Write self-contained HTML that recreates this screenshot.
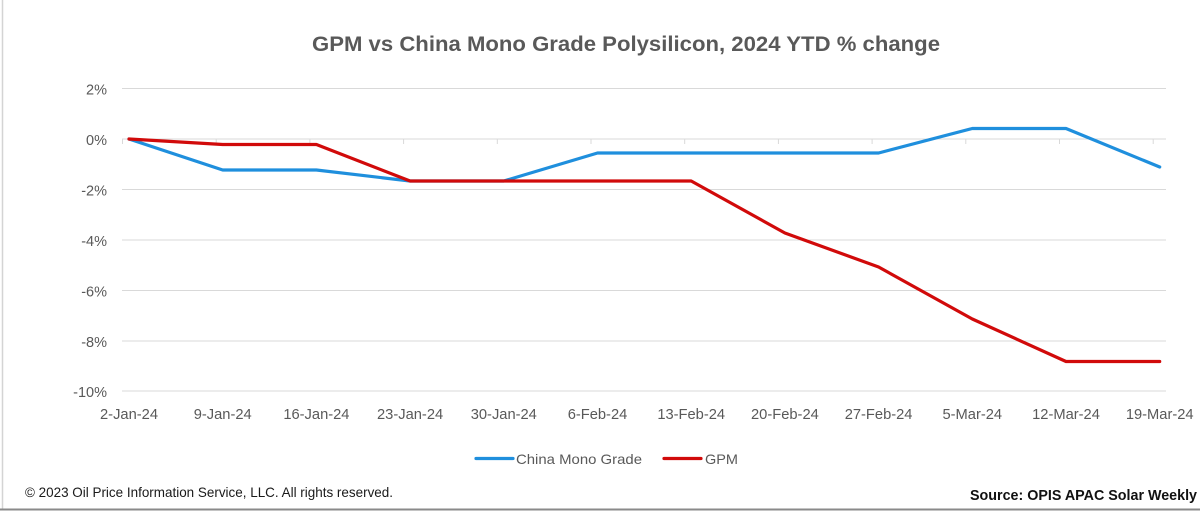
<!DOCTYPE html>
<html>
<head>
<meta charset="utf-8">
<style>
  html,body{margin:0;padding:0;background:#fff;}
  svg{display:block;}
  text{font-family:"Liberation Sans",sans-serif;}
</style>
</head>
<body>
<svg width="1200" height="511" viewBox="0 0 1200 511" xmlns="http://www.w3.org/2000/svg">
  <rect x="0" y="0" width="1200" height="511" fill="#ffffff"/>
  <!-- borders -->
  <line x1="2.5" y1="0" x2="2.5" y2="509" stroke="#d4d4d4" stroke-width="1.5"/>
  <line x1="0" y1="509.5" x2="1200" y2="509.5" stroke="#8a8a8a" stroke-width="2"/>

  <!-- title -->
  <text x="626" y="51" text-anchor="middle" font-size="21" font-weight="bold" fill="#595959" textLength="628" lengthAdjust="spacingAndGlyphs">GPM vs China Mono Grade Polysilicon, 2024 YTD % change</text>

  <!-- gridlines -->
  <g stroke="#d9d9d9" stroke-width="1">
    <line x1="122" y1="88.5" x2="1166" y2="88.5"/>
    <line x1="122" y1="139" x2="1166" y2="139"/>
    <line x1="122" y1="189.5" x2="1166" y2="189.5"/>
    <line x1="122" y1="240" x2="1166" y2="240"/>
    <line x1="122" y1="290.5" x2="1166" y2="290.5"/>
    <line x1="122" y1="341" x2="1166" y2="341"/>
    <line x1="122" y1="391" x2="1166" y2="391"/>
  </g>
  <!-- tick marks on 0% axis -->
  <g stroke="#d9d9d9" stroke-width="1">
    <line x1="122.5" y1="139" x2="122.5" y2="144"/>
    <line x1="216.2" y1="139" x2="216.2" y2="144"/>
    <line x1="309.9" y1="139" x2="309.9" y2="144"/>
    <line x1="403.6" y1="139" x2="403.6" y2="144"/>
    <line x1="497.3" y1="139" x2="497.3" y2="144"/>
    <line x1="591" y1="139" x2="591" y2="144"/>
    <line x1="684.7" y1="139" x2="684.7" y2="144"/>
    <line x1="778.4" y1="139" x2="778.4" y2="144"/>
    <line x1="872.1" y1="139" x2="872.1" y2="144"/>
    <line x1="965.8" y1="139" x2="965.8" y2="144"/>
    <line x1="1059.5" y1="139" x2="1059.5" y2="144"/>
    <line x1="1153.2" y1="139" x2="1153.2" y2="144"/>
  </g>

  <!-- y labels -->
  <g font-size="14.5" fill="#595959" text-anchor="end">
    <text x="107" y="94.5">2%</text>
    <text x="107" y="145">0%</text>
    <text x="107" y="195.5">-2%</text>
    <text x="107" y="246">-4%</text>
    <text x="107" y="296.5">-6%</text>
    <text x="107" y="347">-8%</text>
    <text x="107" y="397">-10%</text>
  </g>

  <!-- x labels -->
  <g font-size="14.7" fill="#595959" text-anchor="middle">
    <text x="129" y="419">2-Jan-24</text>
    <text x="222.7" y="419">9-Jan-24</text>
    <text x="316.4" y="419">16-Jan-24</text>
    <text x="410.1" y="419">23-Jan-24</text>
    <text x="503.8" y="419">30-Jan-24</text>
    <text x="597.5" y="419">6-Feb-24</text>
    <text x="691.2" y="419">13-Feb-24</text>
    <text x="784.9" y="419">20-Feb-24</text>
    <text x="878.6" y="419">27-Feb-24</text>
    <text x="972.3" y="419">5-Mar-24</text>
    <text x="1066" y="419">12-Mar-24</text>
    <text x="1159.7" y="419">19-Mar-24</text>
  </g>

  <!-- series: China Mono Grade -->
  <polyline fill="none" stroke="#1f8fdd" stroke-width="3.2" stroke-linejoin="round" stroke-linecap="round"
    points="129,139 222.7,170 316.4,170 410.1,181 503.8,181 597.5,153 691.2,153 784.9,153 878.6,153 972.3,128.5 1066,128.5 1159.7,167"/>
  <!-- series: GPM -->
  <polyline fill="none" stroke="#d10a0a" stroke-width="3.2" stroke-linejoin="round" stroke-linecap="round"
    points="129,139 222.7,144.5 316.4,144.5 410.1,181 503.8,181 597.5,181 691.2,181 784.9,233 878.6,267 972.3,319 1066,361.5 1159.7,361.5"/>

  <!-- legend -->
  <line x1="476" y1="458.5" x2="513" y2="458.5" stroke="#1f8fdd" stroke-width="3.2" stroke-linecap="round"/>
  <text x="516" y="464" font-size="14" fill="#595959" textLength="126" lengthAdjust="spacingAndGlyphs">China Mono Grade</text>
  <line x1="664" y1="458.5" x2="701" y2="458.5" stroke="#d10a0a" stroke-width="3.2" stroke-linecap="round"/>
  <text x="705" y="464" font-size="14" fill="#595959" textLength="33" lengthAdjust="spacingAndGlyphs">GPM</text>

  <!-- footer -->
  <text x="25" y="497" font-size="14" fill="#1a1a1a" textLength="368" lengthAdjust="spacingAndGlyphs">© 2023 Oil Price Information Service, LLC. All rights reserved.</text>
  <text x="970" y="500" font-size="15" font-weight="bold" fill="#111111" textLength="227" lengthAdjust="spacingAndGlyphs">Source: OPIS APAC Solar Weekly</text>
</svg>
</body>
</html>
